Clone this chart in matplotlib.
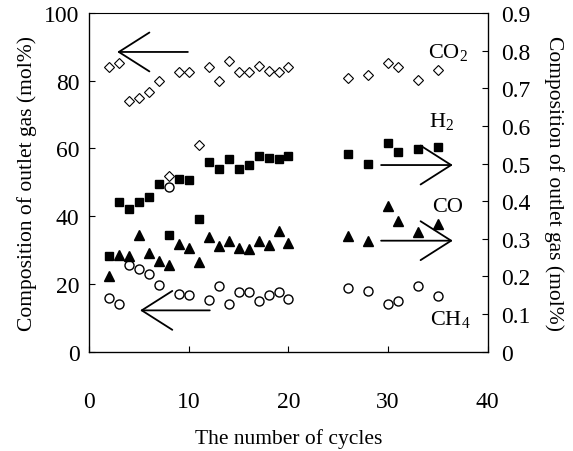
import matplotlib
matplotlib.use("Agg")
import matplotlib.pyplot as plt

plt.rcParams['font.family'] = ['Liberation Serif', 'DejaVu Serif']
plt.rcParams['mathtext.fontset'] = 'custom'
plt.rcParams['mathtext.rm'] = 'Liberation Serif'

# CO2 (left axis, open diamonds)
co2_cycles = [2, 3, 4, 5, 6, 7, 8, 9, 10, 11, 12, 13, 14, 15, 16, 17, 18, 19, 20,
              26, 28, 30, 31, 33, 35]
co2_values = [84.0, 85.3, 74.1, 74.8, 76.8, 80.0, 52.0, 82.5, 82.5, 61.1, 84.0, 80.0,
              85.9, 82.5, 82.5, 84.5, 83.0, 82.5, 84.0,
              80.7, 81.7, 85.3, 84.0, 80.3, 83.3]

# CH4 (left axis, open circles)
ch4_cycles = [2, 3, 4, 5, 6, 7, 8, 9, 10, 12, 13, 14, 15, 16, 17, 18, 19, 20,
              26, 28, 30, 31, 33, 35]
ch4_values = [15.8, 14.2, 25.7, 24.5, 23.0, 19.6, 48.6, 17.1, 16.8, 15.4, 19.4, 14.2,
              17.6, 17.6, 15.1, 16.6, 17.6, 15.6,
              18.8, 17.8, 14.2, 15.1, 19.3, 16.4]

# H2 (right axis, filled squares)
h2_cycles = [2, 3, 4, 5, 6, 7, 8, 9, 10, 11, 12, 13, 14, 15, 16, 17, 18, 19, 20,
             26, 28, 30, 31, 33, 35]
h2_values = [0.253, 0.399, 0.380, 0.397, 0.411, 0.446, 0.309, 0.459, 0.455, 0.353,
             0.503, 0.486, 0.512, 0.486, 0.496, 0.521, 0.514, 0.512, 0.519,
             0.526, 0.499, 0.555, 0.530, 0.539, 0.543]

# CO (right axis, filled triangles)
co_cycles = [2, 3, 4, 5, 6, 7, 8, 9, 10, 11, 12, 13, 14, 15, 16, 17, 18, 19, 20,
             26, 28, 30, 31, 33, 35]
co_values = [0.201, 0.257, 0.253, 0.311, 0.262, 0.242, 0.231, 0.287, 0.275, 0.238,
             0.304, 0.280, 0.294, 0.276, 0.272, 0.294, 0.284, 0.322, 0.289,
             0.307, 0.293, 0.386, 0.347, 0.319, 0.340]

left_ticks = [0, 20, 40, 60, 80, 100]
right_ticks = [0, 0.1, 0.2, 0.3, 0.4, 0.5, 0.6, 0.7, 0.8, 0.9]
right_tick_labels = ['0', '0.1', '0.2', '0.3', '0.4', '0.5', '0.6', '0.7', '0.8', '0.9']
x_ticks = [0, 10, 20, 30, 40]

fig = plt.figure(figsize=(5.73, 4.52), dpi=100)
ax = fig.add_axes([0.1558, 0.2197, 0.6953, 0.7493])
ax2 = ax.twinx()

ax.plot(co2_cycles, co2_values, linestyle='none', marker='D', ms=5.0,
        mfc='white', mec='black', mew=0.8)
ax.plot(ch4_cycles, ch4_values, linestyle='none', marker='o', ms=6.5,
        mfc='white', mec='black', mew=1.0)
ax2.plot(h2_cycles, h2_values, linestyle='none', marker='s', ms=6.3,
         mfc='black', mec='black')
ax2.plot(co_cycles, co_values, linestyle='none', marker='^', ms=6.8,
         mfc='black', mec='black')

ax.set_xlim(0, 40)
ax.set_ylim(0, 100)
ax2.set_ylim(0, 0.9)
ax.set_xticks(x_ticks)
ax.set_yticks(left_ticks)
ax2.set_yticks(right_ticks)
ax2.set_yticklabels(right_tick_labels)

for a in (ax, ax2):
    a.tick_params(direction='in', length=4, width=0.8, labelsize=17)
ax.tick_params(axis='x', pad=28, top=False)
ax.tick_params(axis='y', pad=7)
ax2.tick_params(axis='y', pad=10)
for s in ax.spines.values():
    s.set_linewidth(0.9)
ax.spines['top'].set_linewidth(0.6)

ax.set_xlabel('The number of cycles', fontsize=15.5, labelpad=12)
ax.set_ylabel('Composition of outlet gas (mol%)', fontsize=15.5, labelpad=5)
ax2.set_ylabel('Composition of outlet gas (mol%)', fontsize=15.5, rotation=270,
               labelpad=24)

arrow = dict(arrowstyle='->, head_length=1.1, head_width=0.7', lw=1.3,
             color='black', mutation_scale=20, shrinkA=0, shrinkB=0)
ax.annotate('', xy=(2.8, 88.5), xytext=(9.9, 88.5), arrowprops=arrow)
ax.annotate('', xy=(5.1, 12.2), xytext=(12.1, 12.2), arrowprops=arrow)
ax2.annotate('', xy=(36.5, 0.496), xytext=(29.3, 0.496), arrowprops=arrow)
ax2.annotate('', xy=(36.5, 0.295), xytext=(29.3, 0.295), arrowprops=arrow)

ax.text(34.0, 88.5, r'CO$_2$', fontsize=16, ha='left', va='center')
ax.text(34.1, 68.0, r'H$_2$', fontsize=16, ha='left', va='center')
ax.text(34.4, 43.0, 'CO', fontsize=16, ha='left', va='center')
ax.text(34.2, 9.5, r'CH$_4$', fontsize=16, ha='left', va='center')

fig.savefig('out.png', dpi=100)
